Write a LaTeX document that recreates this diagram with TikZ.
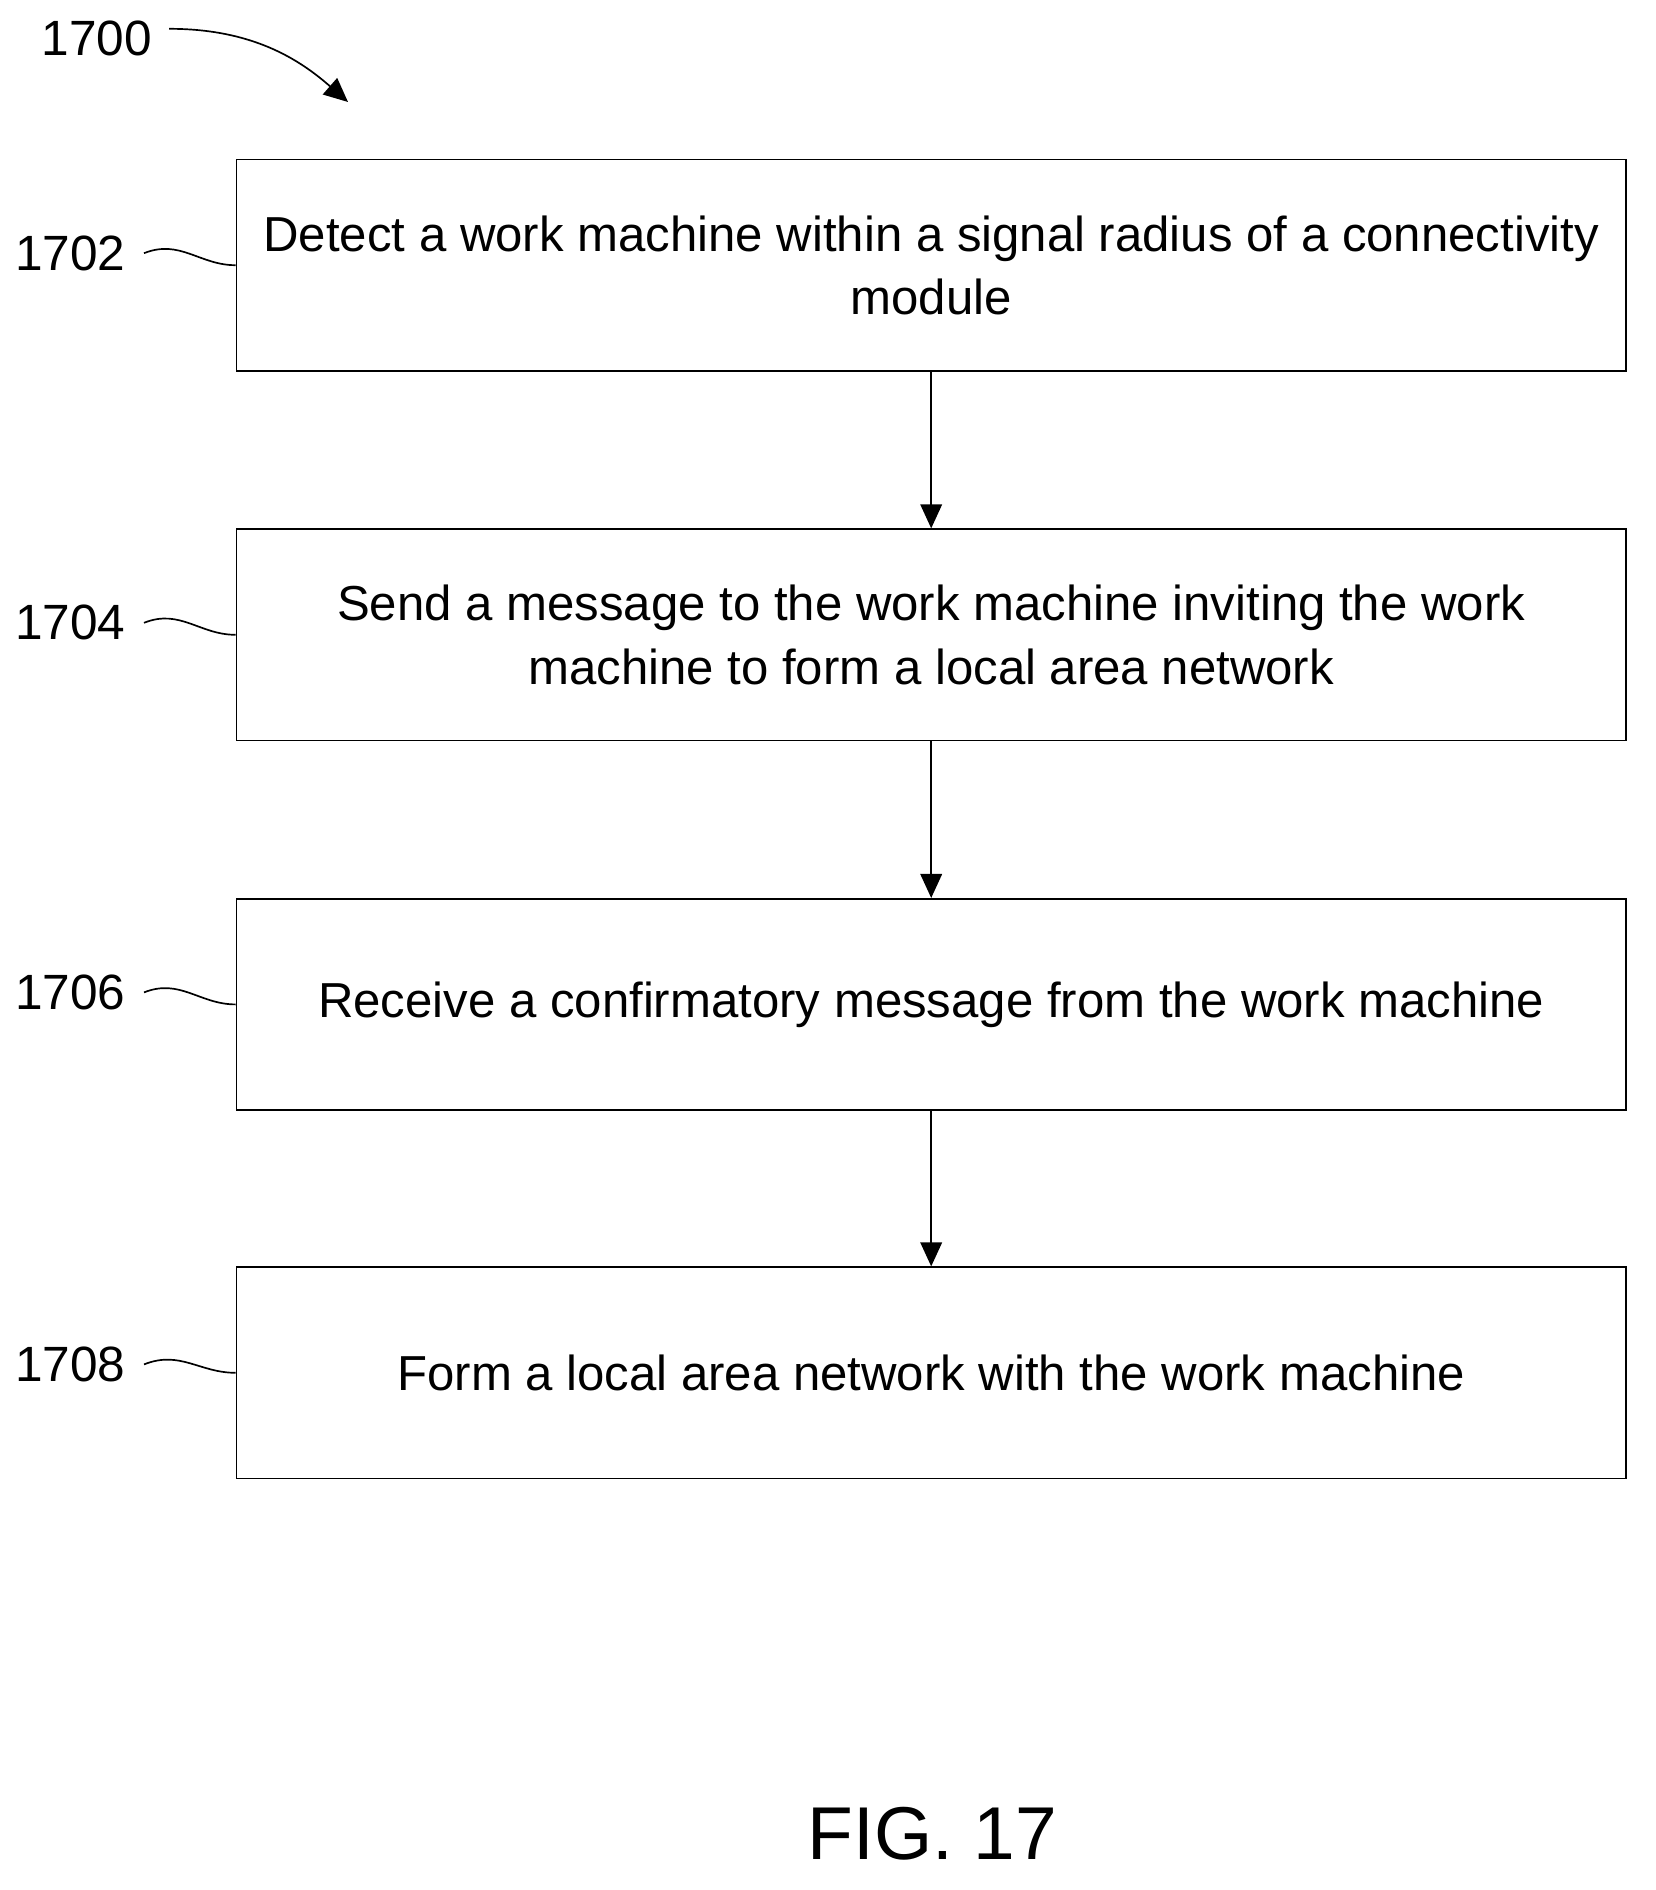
\documentclass[tikz,border=0pt]{standalone}
\usepackage{fontspec}
\setmainfont{Liberation Sans}
\usetikzlibrary{positioning, calc, arrows.meta}

\begin{document}
\begin{tikzpicture}[x=0.2mm,y=-0.2mm,
  stepbox/.style={rectangle,draw,thick,minimum width=231.6mm,minimum height=35.2mm,align=center,font=\fontsize{23.3}{30}\selectfont},
  ref/.style={font=\fontsize{23.5}{26}\selectfont,anchor=east,inner sep=0pt},
  flow/.style={-{Triangle[length=4mm,width=3.6mm]},thick},
  tilde/.style={thick}]
\useasboundingbox (0,0) rectangle (1380,1575);
\node (s1) [stepbox] at (776,221) {Detect a work machine within a signal radius of a connectivity\\module};
\node (s2) [stepbox] at (776,529) {Send a message to the work machine inviting the work\\machine to form a local area network};
\node (s3) [stepbox] at (776,837) {Receive a confirmatory message from the work machine};
\node (s4) [stepbox] at (776,1144) {Form a local area network with the work machine};
\draw [flow] (s1) -- (s2);
\draw [flow] (s2) -- (s3);
\draw [flow] (s3) -- (s4);
% reference labels
\node (l0) [ref] at (127,32) {1700};
\node (l1) [ref] at (105,211) {1702};
\node (l2) [ref] at (105,519) {1704};
\node (l3) [ref] at (105,827) {1706};
\node (l4) [ref] at (105,1137) {1708};
\foreach \i in {1,...,4}
  \draw [tilde] ($(l\i.east)+(15,0)$) .. controls +(30,-12) and +(-30,0) .. (s\i.west);
\coordinate (c0) at (290,85);
\draw [-{Triangle[length=4mm,width=3.6mm]},thick] ($(l0.east)+(14,-8)$) .. controls +(70,0) and +(-40,-35) .. (c0);
\node (fig) [font=\fontsize{35.5}{40}\selectfont] at (777,1528) {FIG. 17};
\end{tikzpicture}
\end{document}
